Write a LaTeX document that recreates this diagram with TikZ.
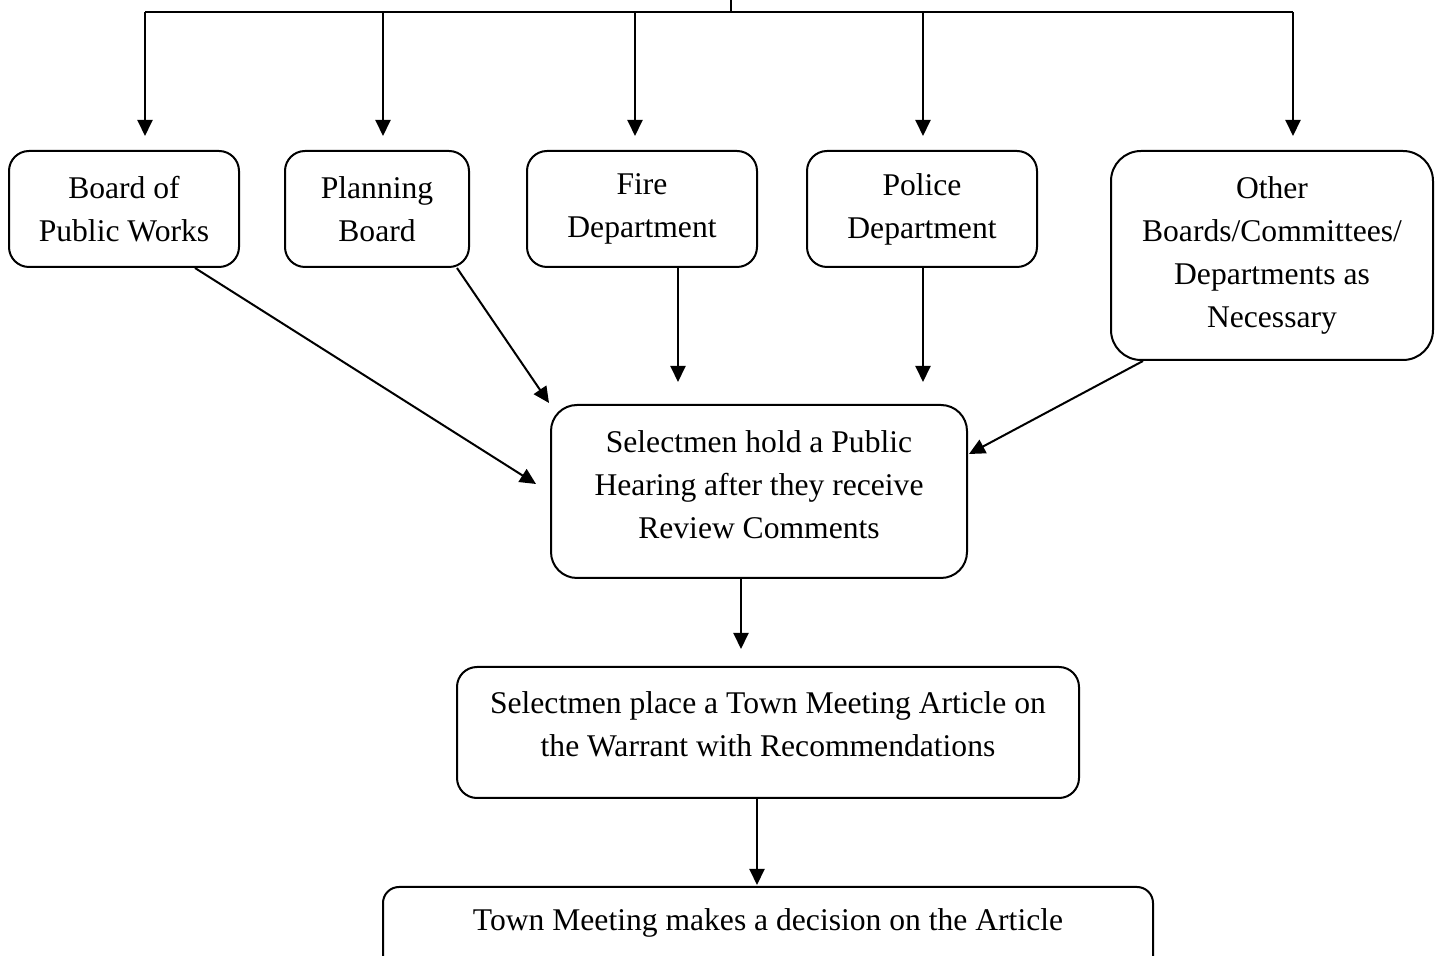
\documentclass[tikz,border=0pt]{standalone}
\usepackage{fontspec}
\setmainfont{Liberation Serif}
\usetikzlibrary{arrows.meta,calc}
\begin{document}
\begin{tikzpicture}[x=0.5pt,y=-0.5pt,
 box/.style={draw,line width=1pt,rounded corners=10pt,align=center,inner sep=0pt,font=\fontsize{15.8}{21.5}\selectfont},
 txt/.style={align=center,inner sep=0pt,font=\fontsize{15.8}{21.5}\selectfont},
 arr/.style={line width=1pt,-{Triangle[length=8pt,width=7.5pt]}},
 ln/.style={line width=1pt}]
\useasboundingbox (0,0) rectangle (1437,956);
% nodes
\node[box,minimum width=115pt,minimum height=58pt] (bpw) at (124,209) {Board of\\Public Works};
\node[box,minimum width=92pt,minimum height=58pt] (plan) at (377,209) {Planning\\Board};
\node[box,minimum width=115pt,minimum height=58pt] (fire) at (642,209) {Fire\\Department};
\node[box,minimum width=115pt,minimum height=58pt] (police) at (922,209) {Police\\Department};
\node[box,rounded corners=15pt,minimum width=161pt,minimum height=104.5pt] (other) at (1272,255.5) {Other\\Boards/Committees/\\Departments as\\Necessary};
\node[box,rounded corners=13pt,minimum width=208pt,minimum height=86.5pt] (hear) at (759,491.5) {};
\node[txt] (heart) at ($(hear.center)+(0,-7)$) {Selectmen hold a Public\\Hearing after they receive\\Review Comments};
\node[box,minimum width=311pt,minimum height=65.5pt] (art) at (768,732.5) {};
\node[txt] (artt) at ($(art.center)+(0,-8)$) {Selectmen place a Town Meeting Article on\\the Warrant with Recommendations};
\node[box,rounded corners=8pt,minimum width=385pt,text height=22pt,text depth=25pt,anchor=north] (final) at (768,886) {Town Meeting makes a decision on the Article};
% top distribution
\coordinate (top) at (731,0);
\coordinate (tm) at (731,12);
\coordinate (tl) at (145,12);
\coordinate (tr) at (1293,12);
\coordinate (t2) at (383,12);
\coordinate (t3) at (635,12);
\coordinate (t4) at (923,12);
\draw[ln] (top) -- (tm);
\draw[ln] (tl) -- (tr);
\draw[arr,shorten >=7pt] (tl) -- (tl |- bpw.north);
\draw[arr,shorten >=7pt] (t2) -- (t2 |- plan.north);
\draw[arr,shorten >=7pt] (t3) -- (t3 |- fire.north);
\draw[arr,shorten >=7pt] (t4) -- (t4 |- police.north);
\draw[arr,shorten >=7pt] (tr) -- (tr |- other.north);
% into hearing
\coordinate (b1) at ($(bpw.south)+(71,0)$);
\coordinate (h1) at ($(hear.west)+(-14,-7.5)$);
\draw[arr] (b1) -- (h1);
\coordinate (p1) at ($(plan.south)+(80,0)$);
\coordinate (h2) at ($(hear.north west)+(-1,-1)$);
\draw[arr] (p1) -- (h2);
\coordinate (f1) at ($(fire.south)+(36,0)$);
\draw[arr,shorten >=11pt] (f1) -- (f1 |- hear.north);
\coordinate (q1) at ($(police.south)+(1,0)$);
\draw[arr,shorten >=11pt] (q1) -- (q1 |- hear.north);
\coordinate (o1) at ($(other.south)+(-129,0)$);
\coordinate (h3) at ($(hear.north east)+(1,50)$);
\draw[arr] (o1) -- (h3);
% down chain
\coordinate (s1) at ($(hear.south)+(-18,0)$);
\draw[arr,shorten >=8.5pt] (s1) -- (s1 |- art.north);
\coordinate (s2) at ($(art.south)+(-11,0)$);
\draw[arr,shorten >=0.5pt] (s2) -- (s2 |- final.north);
\end{tikzpicture}
\end{document}
